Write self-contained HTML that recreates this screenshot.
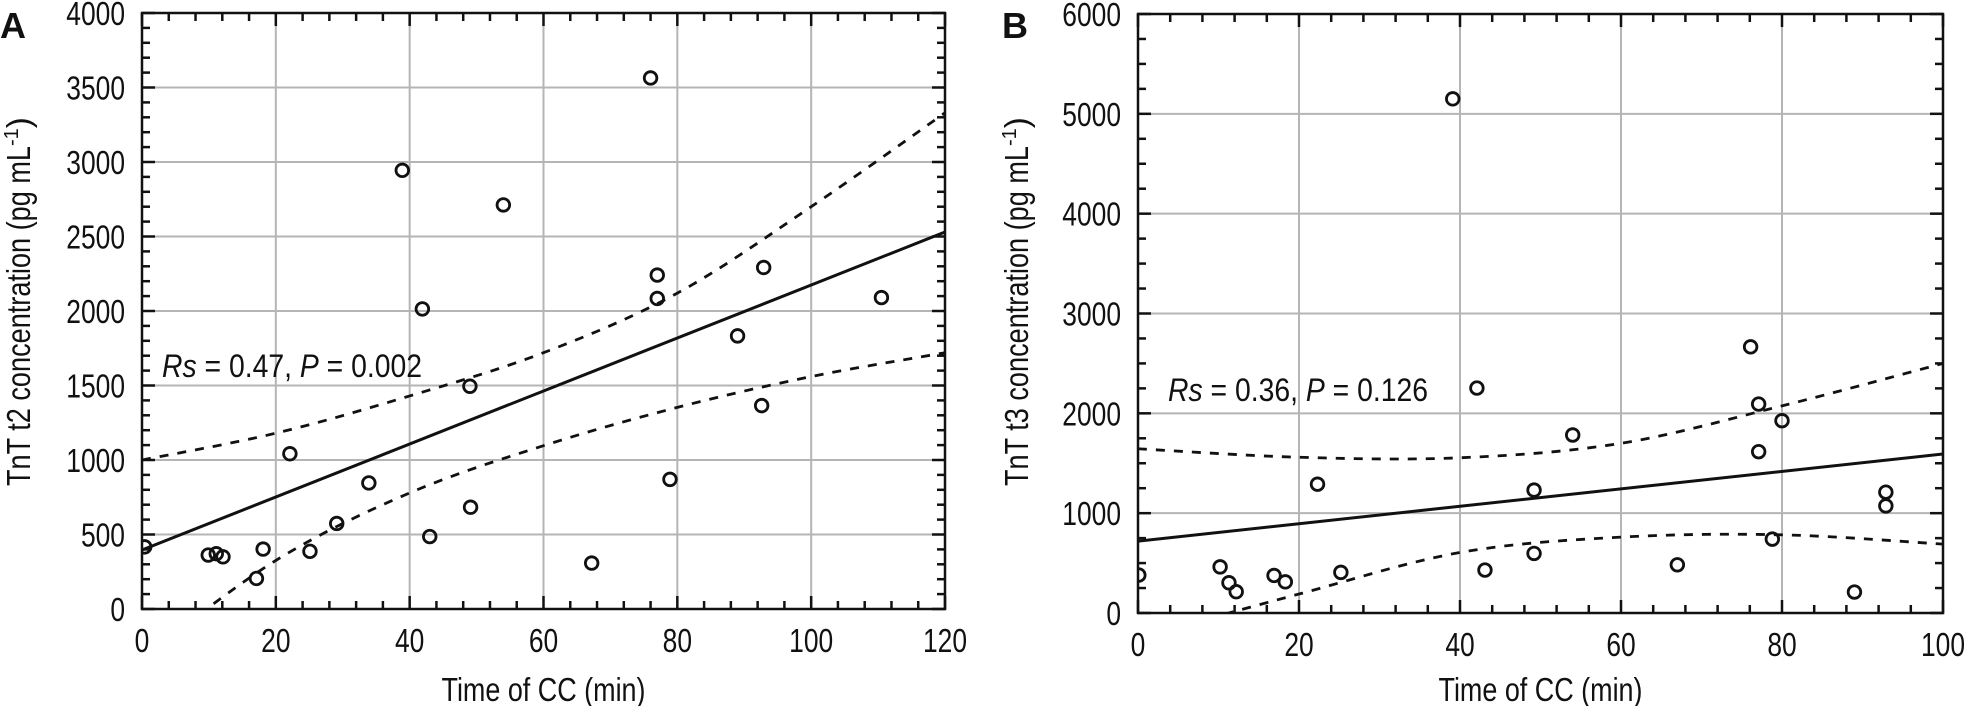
<!DOCTYPE html>
<html><head><meta charset="utf-8">
<style>
html,body{margin:0;padding:0;background:#fff;}
svg{display:block;}
text{font-family:"Liberation Sans",sans-serif;fill:#111;}
</style></head>
<body>
<svg id="chart" width="1969" height="706" viewBox="0 0 1969 706" xmlns="http://www.w3.org/2000/svg"></svg>
<script>
// Panel A data
const aTime = [0.4, 9.9, 11.1, 12.1, 17.1, 18.1, 22.1, 25.1, 29.1, 33.9, 38.9, 41.9, 43.0, 49.0, 49.1, 54.0, 67.2, 76.0, 77.0, 77.0, 78.9, 89.0, 92.6, 92.9, 110.5];
const aTnT = [417, 362, 371, 350, 205, 402, 1042, 387, 574, 846, 2944, 2014, 486, 1495, 683, 2712, 308, 3564, 2241, 2084, 870, 1833, 1365, 2292, 2090];
const aFitX = [0, 120];
const aFitY = [396, 2530];
const aCiX = [0, 20, 40, 60, 80, 100, 120];
const aCiUpper = [1000, 1180, 1430, 1720, 2120, 2700, 3330];
const aCiLower = [-330, 326, 779, 1096, 1353, 1560, 1720];
const aXTicks = [0, 20, 40, 60, 80, 100, 120];
const aYTicks = [0, 500, 1000, 1500, 2000, 2500, 3000, 3500, 4000];
// Panel B data
const bTime = [0.1, 10.2, 11.3, 12.2, 16.9, 18.3, 22.3, 25.2, 39.1, 42.1, 43.1, 49.2, 49.2, 54.0, 67.0, 76.1, 77.1, 77.1, 78.8, 80.0, 89.0, 92.9, 92.9];
const bTnT = [380, 462, 303, 213, 376, 312, 1290, 407, 5150, 2253, 430, 1231, 597, 1783, 483, 2666, 2093, 1616, 740, 1926, 210, 1210, 1073];
const bFitX = [0, 100];
const bFitY = [720, 1593];
const bCiX = [0, 20, 40, 60, 80, 100];
const bCiUpper = [1645, 1560, 1555, 1700, 2075, 2500];
const bCiLower = [-250, 190, 606, 760, 783, 690];
const bXTicks = [0, 20, 40, 60, 80, 100];
const bYTicks = [0, 1000, 2000, 3000, 4000, 5000, 6000];

const NS = "http://www.w3.org/2000/svg";
const svg = document.getElementById("chart");
const SX = 0.8;
function mk(tag, attrs, parent) {
  const e = document.createElementNS(NS, tag);
  for (const k in attrs) e.setAttribute(k, attrs[k]);
  (parent || svg).appendChild(e);
  return e;
}
function smooth(pts) {
  let d = "M" + pts[0][0] + "," + pts[0][1];
  for (let i = 0; i < pts.length - 1; i++) {
    const p0 = pts[i - 1] || pts[i], p1 = pts[i], p2 = pts[i + 1], p3 = pts[i + 2] || p2;
    const c1x = p1[0] + (p2[0] - p0[0]) / 6, c1y = p1[1] + (p2[1] - p0[1]) / 6;
    const c2x = p2[0] - (p3[0] - p1[0]) / 6, c2y = p2[1] - (p3[1] - p1[1]) / 6;
    d += " C" + c1x + "," + c1y + " " + c2x + "," + c2y + " " + p2[0] + "," + p2[1];
  }
  return d;
}

function panel(cfg) {
  const g = mk("g", {});
  
  
  const xs = v => cfg.L + (v - cfg.xmin) / (cfg.xmax - cfg.xmin) * (cfg.R - cfg.L);
  const ys = v => cfg.B - (v - cfg.ymin) / (cfg.ymax - cfg.ymin) * (cfg.B - cfg.T);
  const clipId = "clip-" + cfg.id;
  const cp = mk("clipPath", { id: clipId }, g);
  mk("rect", { x: cfg.L, y: cfg.T, width: cfg.R - cfg.L, height: cfg.B - cfg.T }, cp);

  const grid = mk("g", {}, g);
  
  
  cfg.xTicks.forEach(t => { if (t > cfg.xmin && t < cfg.xmax) mk("line", { x1: xs(t), x2: xs(t), y1: cfg.T, y2: cfg.B, stroke: "#b5b5b5", "stroke-width": 2 }, grid); });
  cfg.yTicks.forEach(t => { if (t > cfg.ymin && t < cfg.ymax) mk("line", { x1: cfg.L, x2: cfg.R, y1: ys(t), y2: ys(t), stroke: "#b5b5b5", "stroke-width": 2 }, grid); });

  const ann = mk("text", { x: cfg.annX, y: cfg.annY, "font-size": 32, textLength: cfg.annW, lengthAdjust: "spacingAndGlyphs" }, g);
  
  
  ann.innerHTML = '<tspan font-style="italic">Rs</tspan> = ' + cfg.rs + ', <tspan font-style="italic">P</tspan> = ' + cfg.p;

  const ticks = mk("g", { stroke: "#111", "stroke-width": 2.5 }, g);
  
  
  for (let v = cfg.xmin; v <= cfg.xmax + 1e-9; v += cfg.xMinor) {
    const major = cfg.xTicks.includes(Math.round(v * 100) / 100);
    const len = major ? 13 : 8;
    mk("line", { x1: xs(v), x2: xs(v), y1: cfg.B, y2: cfg.B - len }, ticks);
    mk("line", { x1: xs(v), x2: xs(v), y1: cfg.T, y2: cfg.T + len }, ticks);
  }
  for (let v = cfg.ymin; v <= cfg.ymax + 1e-9; v += cfg.yMinor) {
    const major = cfg.yTicks.includes(v);
    const len = major ? 13 : 8;
    mk("line", { x1: cfg.L, x2: cfg.L + len, y1: ys(v), y2: ys(v) }, ticks);
    mk("line", { x1: cfg.R, x2: cfg.R - len, y1: ys(v), y2: ys(v) }, ticks);
  }

  const up = mk("path", { d: smooth(cfg.ciX.map((x, i) => [xs(x), ys(cfg.ciU[i])])), fill: "none", stroke: "#111", "stroke-width": 2.8, "stroke-dasharray": "9,9", "clip-path": "url(#" + clipId + ")" }, g);
  
  
  const lo = mk("path", { d: smooth(cfg.ciX.map((x, i) => [xs(x), ys(cfg.ciL[i])])), fill: "none", stroke: "#111", "stroke-width": 2.8, "stroke-dasharray": "9,9", "clip-path": "url(#" + clipId + ")" }, g);
  
  
  const fit = mk("line", { x1: xs(cfg.fitX[0]), y1: ys(cfg.fitY[0]), x2: xs(cfg.fitX[1]), y2: ys(cfg.fitY[1]), stroke: "#111", "stroke-width": 3, "clip-path": "url(#" + clipId + ")" }, g);
  
  

  const pts = mk("g", { "clip-path": "url(#" + clipId + ")" }, g);
  
  
  cfg.px.forEach((x, i) => {
    const c = mk("circle", { cx: xs(x), cy: ys(cfg.py[i]), r: 6.3, fill: "none", stroke: "#111", "stroke-width": 2.8 }, pts);
    
    
  });

  const fr = mk("rect", { x: cfg.L, y: cfg.T, width: cfg.R - cfg.L, height: cfg.B - cfg.T, fill: "none", stroke: "#111", "stroke-width": 2.5 }, g);
  
  

  cfg.xTicks.forEach(t => {
    const tx = mk("text", { x: 0, y: 0, "font-size": 33, "text-anchor": "middle", transform: "translate(" + xs(t) + "," + (cfg.B + 43) + ") scale(" + SX + ",1)" }, g);
    
    
    tx.textContent = t;
  });
  cfg.yTicks.forEach(t => {
    const ty = mk("text", { x: 0, y: 0, "font-size": 33, "text-anchor": "end", transform: "translate(" + (cfg.L - 17) + "," + (ys(t) + 12) + ") scale(" + SX + ",1)" }, g);
    
    
    ty.textContent = t;
  });
  const xt = mk("text", { x: (cfg.L + cfg.R) / 2 - 102, y: 701, "font-size": 33, textLength: 204, lengthAdjust: "spacingAndGlyphs" }, g);
  
  
  xt.textContent = "Time of CC (min)";
  const yt = mk("text", { x: 0, y: 0, "font-size": 33, transform: "translate(" + cfg.ytX + ",486) rotate(-90)" }, g);
  
  
  yt.innerHTML = '<tspan textLength="340" lengthAdjust="spacingAndGlyphs">TnT ' + cfg.tname + ' concentration (pg mL</tspan><tspan font-size="20" dy="-12">-1</tspan><tspan dy="12">)</tspan>';
  const lt = mk("text", { x: cfg.letterX, y: 38, "font-size": 36, "font-weight": "bold" }, g);
  
  
  lt.textContent = cfg.letter;
}

panel({ id: "panel-a", L: 142, R: 945, T: 13, B: 609, xmin: 0, xmax: 120, ymin: 0, ymax: 4000,
  xTicks: aXTicks, yTicks: aYTicks, xMinor: 4, yMinor: 100,
  px: aTime, py: aTnT, fitX: aFitX, fitY: aFitY, ciX: aCiX, ciU: aCiUpper, ciL: aCiLower,
  rs: "0.47", p: "0.002", annX: 162, annY: 377, annW: 260, ytX: 30, tname: "t2", letter: "A", letterX: 0 });
panel({ id: "panel-b", L: 1138, R: 1943, T: 14, B: 613, xmin: 0, xmax: 100, ymin: 0, ymax: 6000,
  xTicks: bXTicks, yTicks: bYTicks, xMinor: 4, yMinor: 250,
  px: bTime, py: bTnT, fitX: bFitX, fitY: bFitY, ciX: bCiX, ciU: bCiUpper, ciL: bCiLower,
  rs: "0.36", p: "0.126", annX: 1168, annY: 401, annW: 260, ytX: 1028, tname: "t3", letter: "B", letterX: 1002 });
</script>
</body></html>
